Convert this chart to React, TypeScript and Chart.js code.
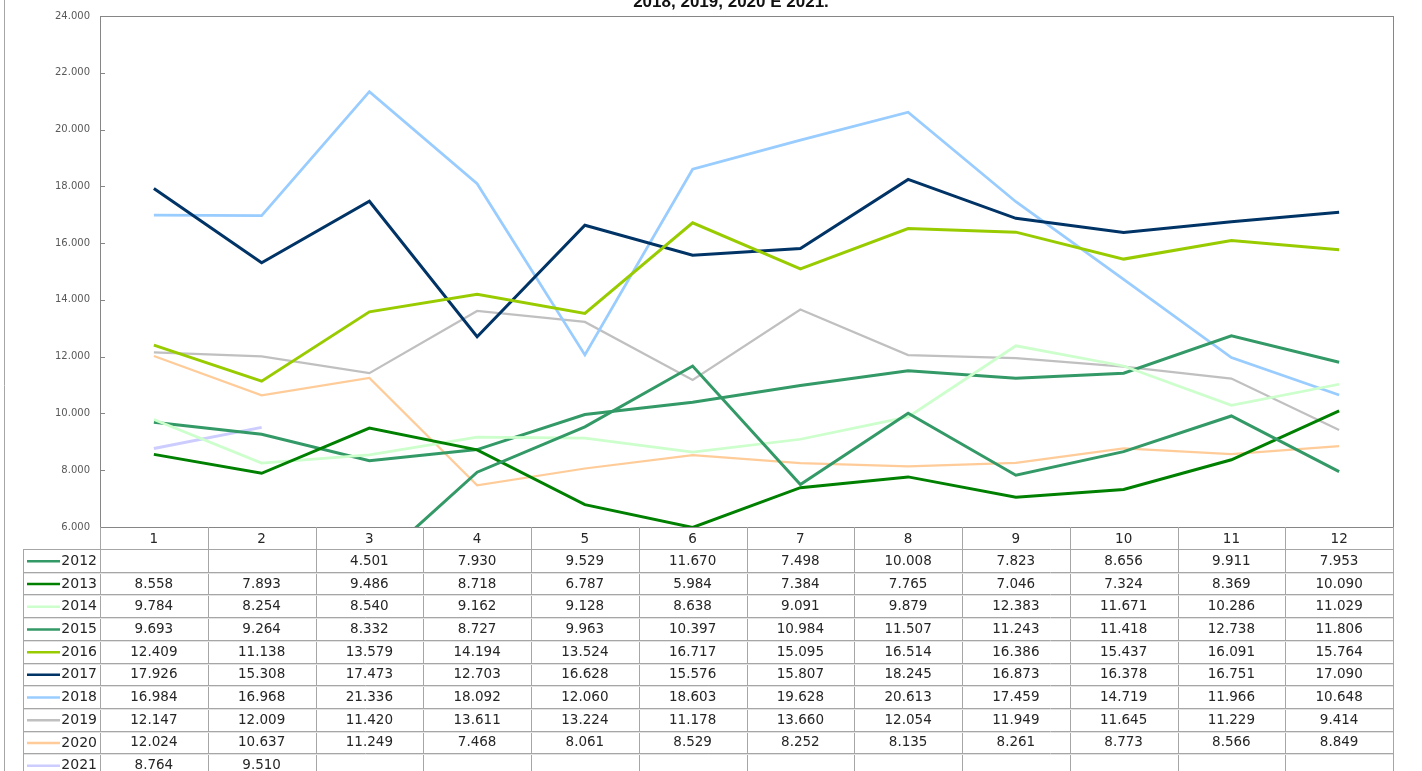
import { useEffect, useRef } from "react";
import { Chart, registerables } from "chart.js";

Chart.register(...registerables);

// ---- data ----
const months = ["1", "2", "3", "4", "5", "6", "7", "8", "9", "10", "11", "12"];
const years = ["2012", "2013", "2014", "2015", "2016", "2017", "2018", "2019", "2020", "2021"];

const v2012 = [null, null, 4501, 7930, 9529, 11670, 7498, 10008, 7823, 8656, 9911, 7953];
const v2013 = [8558, 7893, 9486, 8718, 6787, 5984, 7384, 7765, 7046, 7324, 8369, 10090];
const v2014 = [9784, 8254, 8540, 9162, 9128, 8638, 9091, 9879, 12383, 11671, 10286, 11029];
const v2015 = [9693, 9264, 8332, 8727, 9963, 10397, 10984, 11507, 11243, 11418, 12738, 11806];
const v2016 = [12409, 11138, 13579, 14194, 13524, 16717, 15095, 16514, 16386, 15437, 16091, 15764];
const v2017 = [17926, 15308, 17473, 12703, 16628, 15576, 15807, 18245, 16873, 16378, 16751, 17090];
const v2018 = [16984, 16968, 21336, 18092, 12060, 18603, 19628, 20613, 17459, 14719, 11966, 10648];
const v2019 = [12147, 12009, 11420, 13611, 13224, 11178, 13660, 12054, 11949, 11645, 11229, 9414];
const v2020 = [12024, 10637, 11249, 7468, 8061, 8529, 8252, 8135, 8261, 8773, 8566, 8849];
const v2021 = [8764, 9510, null, null, null, null, null, null, null, null, null, null];

const seriesValues: (number | null)[][] = [v2012, v2013, v2014, v2015, v2016, v2017, v2018, v2019, v2020, v2021];

const yMin = 6000;
const yMax = 24000;
const yStep = 2000;

const titleText = "2018, 2019, 2020 E 2021.";

// ---- styles ----
const seriesColors = [
  "#339966", "#008000", "#ccffcc", "#339966", "#99cc00",
  "#003366", "#99ccff", "#c0c0c0", "#ffcc99", "#ccccff",
];
const seriesWidths = [3, 3, 2.75, 3, 3, 3, 2.75, 2.25, 2.25, 3];

function fmt(v: number | null): string {
  if (v === null || v === undefined) return "";
  const s = Math.round(v).toString();
  return s.length > 3 ? s.slice(0, -3) + "." + s.slice(-3) : s;
}

const tablePlugin = {
  id: "excelTable",
  afterDraw(chart: any) {
    const ctx: CanvasRenderingContext2D = chart.ctx;
    const area = chart.chartArea;
    const xs = chart.scales.x;
    const ys = chart.scales.y;
    ctx.save();

    // outer frame line at left
    ctx.strokeStyle = "#a6a6a6";
    ctx.lineWidth = 1;
    ctx.beginPath();
    ctx.moveTo(4.5, 0);
    ctx.lineTo(4.5, chart.height);
    ctx.stroke();

    // title (partially cropped at top)
    ctx.fillStyle = "#111111";
    ctx.font = "bold 17px 'Liberation Sans', Arial, sans-serif";
    ctx.textAlign = "center";
    ctx.textBaseline = "alphabetic";
    ctx.fillText(titleText, 731, 6.5);

    // plot border
    ctx.strokeStyle = "#868686";
    ctx.lineWidth = 1;
    ctx.strokeRect(Math.round(area.left) + 0.5, Math.round(area.top) + 0.5,
      Math.round(area.right - area.left), Math.round(area.bottom - area.top));

    // inside tick marks on y axis
    ctx.beginPath();
    for (let v = yMin; v <= yMax; v += yStep) {
      const y = Math.round(ys.getPixelForValue(v)) + 0.5;
      ctx.moveTo(area.left, y);
      ctx.lineTo(area.left + 5, y);
    }
    ctx.stroke();

    // table
    const half = (xs.getPixelForValue(1) - xs.getPixelForValue(0)) / 2;
    const colEdge = (i: number) => xs.getPixelForValue(i) - half;
    const headerTop = area.bottom;
    const headerH = 22;
    const rowH = 22.7;
    const rowsTop = headerTop + headerH;
    const legendLeft = 23;
    const bottom = chart.height;
    const tableRight = colEdge(months.length);

    ctx.strokeStyle = "#a6a6a6";
    ctx.lineWidth = 1;
    ctx.beginPath();
    for (let i = 0; i <= months.length; i++) {
      const x = Math.round(colEdge(i)) + 0.5;
      ctx.moveTo(x, headerTop);
      ctx.lineTo(x, bottom);
    }
    ctx.moveTo(legendLeft + 0.5, rowsTop);
    ctx.lineTo(legendLeft + 0.5, bottom);
    for (let r = 0; r <= years.length; r++) {
      const y = Math.round(rowsTop + r * rowH) + 0.5;
      ctx.moveTo(legendLeft, y);
      ctx.lineTo(tableRight, y);
    }
    ctx.stroke();
    // light second line under each row separator
    ctx.strokeStyle = "#e3e3e3";
    ctx.beginPath();
    for (let r = 1; r <= years.length; r++) {
      const y = Math.round(rowsTop + r * rowH) + 1.5;
      ctx.moveTo(legendLeft + 1, y);
      ctx.lineTo(tableRight, y);
    }
    ctx.stroke();

    // header labels
    ctx.fillStyle = "#262626";
    ctx.font = "13.5px 'DejaVu Sans', Verdana, sans-serif";
    ctx.textAlign = "center";
    ctx.textBaseline = "middle";
    months.forEach((m, i) => {
      ctx.fillText(m, xs.getPixelForValue(i), headerTop + headerH / 2 + 1);
    });

    // rows
    years.forEach((yr, r) => {
      const cy = rowsTop + r * rowH + rowH / 2 + 1;
      // legend key
      ctx.strokeStyle = seriesColors[r];
      ctx.lineWidth = 2.5;
      ctx.beginPath();
      ctx.moveTo(27, cy);
      ctx.lineTo(60, cy);
      ctx.stroke();
      ctx.fillStyle = "#262626";
      ctx.font = "14px 'DejaVu Sans', Verdana, sans-serif";
      ctx.textAlign = "right";
      ctx.fillText(yr, 97, cy);
      ctx.font = "13.5px 'DejaVu Sans', Verdana, sans-serif";
      ctx.textAlign = "center";
      seriesValues[r].forEach((v, i) => {
        const t = fmt(v);
        if (t) ctx.fillText(t, xs.getPixelForValue(i), cy);
      });
    });

    ctx.restore();
  },
};

export default function App() {
  const ref = useRef<HTMLCanvasElement | null>(null);

  useEffect(() => {
    document.body.style.margin = "0";
    if (!ref.current) return;
    const chart = new Chart(ref.current, {
      type: "line",
      data: {
        labels: months,
        datasets: years.map((yr, i) => ({
          label: yr,
          data: seriesValues[i],
          borderColor: seriesColors[i],
          backgroundColor: seriesColors[i],
          borderWidth: seriesWidths[i],
          pointRadius: 0,
          pointHoverRadius: 0,
          tension: 0,
          spanGaps: false,
          fill: false,
        })),
      },
      options: {
        animation: false,
        responsive: false,
        devicePixelRatio: 1,
        layout: { padding: { left: 0, top: 15, right: 29, bottom: 244 } },
        plugins: {
          legend: { display: false },
          tooltip: { enabled: false },
          title: { display: false },
        },
        scales: {
          x: {
            type: "category",
            display: false,
            offset: true,
          },
          y: {
            min: yMin,
            max: yMax,
            grid: { display: false, drawTicks: false },
            border: { display: false },
            afterFit: (scale: any) => {
              scale.width = 100;
            },
            ticks: {
              stepSize: yStep,
              padding: 10,
              color: "#595959",
              font: { family: "'DejaVu Sans', Verdana, sans-serif", size: 10 },
              callback: (v: any) => fmt(Number(v)),
            },
          },
        },
      },
      plugins: [tablePlugin],
    });
    return () => chart.destroy();
  }, []);

  return (
    <div style={{ width: 1422, height: 771, background: "#ffffff", overflow: "hidden" }}>
      <canvas ref={ref} width={1422} height={771} style={{ display: "block" }} />
    </div>
  );
}
